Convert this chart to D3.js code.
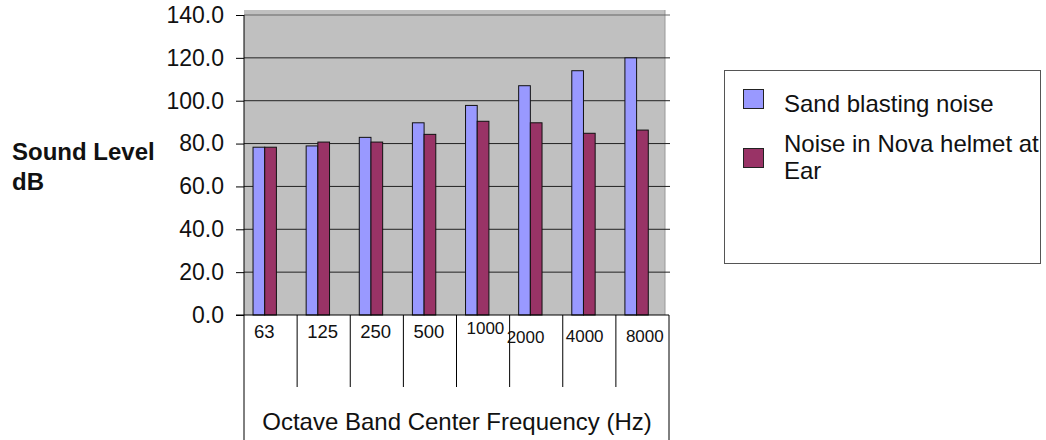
<!DOCTYPE html>
<html>
<head>
<meta charset="utf-8">
<script src="https://cdn.jsdelivr.net/npm/d3@7/dist/d3.min.js"></script>
<style>
  body { margin: 0; background: #fff; }
  svg { display: block; font-family: "Liberation Sans", Arial, sans-serif; }
</style>
</head>
<body>
<div id="chart"></div>
<script>
var bands = ["63", "125", "250", "500", "1000", "2000", "4000", "8000"];
var sandBlasting = [78.3, 78.9, 82.9, 89.7, 97.8, 107.0, 114.0, 120.0];
var novaHelmet = [78.3, 80.7, 80.7, 84.3, 90.4, 89.7, 84.8, 86.3];
var yTicks = [0, 20, 40, 60, 80, 100, 120, 140];
var seriesNames = ["Sand blasting noise", "Noise in Nova helmet at Ear"];

var width = 1046, height = 440;

var svg = d3.select("#chart").append("svg")
    .attr("width", width)
    .attr("height", height);

var x = d3.scaleBand().domain(bands).range([244, 669]).padding(0);
var y = d3.scaleLinear().domain([0, 140]).range([315, 15]);

var step = x.bandwidth();
var barW = step * 0.22;
var barOff = step * 0.17;

// plot background
svg.append("rect")
    .attr("x", 244)
    .attr("y", 10)
    .attr("width", 665 - 244)
    .attr("height", 315 - 10)
    .attr("fill", "#c0c0c0");

svg.append("line")
    .attr("x1", 665).attr("x2", 665)
    .attr("y1", 10).attr("y2", 315)
    .attr("stroke", "#999");

// gridlines
svg.append("g")
    .selectAll("line")
    .data(yTicks.filter(function (d) { return d > 0; }))
    .enter().append("line")
    .attr("x1", 244)
    .attr("x2", 670)
    .attr("y1", function (d) { return y(d); })
    .attr("y2", function (d) { return y(d); })
    .attr("stroke", function (d) { return d === 140 ? "#666" : "#222"; })
    .attr("stroke-width", 1);

// bars
var groups = svg.append("g")
    .selectAll("g")
    .data(bands)
    .enter().append("g")
    .attr("transform", function (d) { return "translate(" + x(d) + ",0)"; });

groups.append("rect")
    .attr("x", barOff)
    .attr("y", function (d, i) { return y(sandBlasting[i]); })
    .attr("width", barW)
    .attr("height", function (d, i) { return y(0) - y(sandBlasting[i]); })
    .attr("fill", "#9999ff")
    .attr("stroke", "#111")
    .attr("stroke-width", 1);

groups.append("rect")
    .attr("x", barOff + barW)
    .attr("y", function (d, i) { return y(novaHelmet[i]); })
    .attr("width", barW)
    .attr("height", function (d, i) { return y(0) - y(novaHelmet[i]); })
    .attr("fill", "#993366")
    .attr("stroke", "#111")
    .attr("stroke-width", 1);

// y axis
var yAxis = svg.append("g")
    .attr("transform", "translate(244,0)")
    .call(d3.axisLeft(y).tickValues(yTicks).tickSize(8).tickPadding(12)
        .tickFormat(d3.format(".1f")));
yAxis.select(".domain").remove();
yAxis.selectAll(".tick line").attr("stroke", "#000");
yAxis.selectAll(".tick text")
    .attr("font-size", "23px")
    .attr("font-family", "'Liberation Sans', Arial, sans-serif")
    .attr("fill", "#111");

// axis frame
svg.append("line")
    .attr("x1", 244).attr("x2", 244)
    .attr("y1", 15).attr("y2", 440)
    .attr("stroke", "#000");
svg.append("line")
    .attr("x1", 669).attr("x2", 669)
    .attr("y1", 315).attr("y2", 440)
    .attr("stroke", "#000");
svg.append("line")
    .attr("x1", 236).attr("x2", 669)
    .attr("y1", 315).attr("y2", 315)
    .attr("stroke", "#000");

// category separators
svg.append("g")
    .selectAll("line")
    .data(bands.slice(1))
    .enter().append("line")
    .attr("x1", function (d) { return x(d); })
    .attr("x2", function (d) { return x(d); })
    .attr("y1", 315)
    .attr("y2", 387)
    .attr("stroke", "#000");

// category labels (Excel left them a bit scattered)
var labelShift = {"1000": [10, 334], "2000": [-3, 343], "4000": [3, 342], "8000": [10, 342]};
svg.append("g")
    .selectAll("text")
    .data(bands)
    .enter().append("text")
    .attr("x", function (d) { return x(d) + (labelShift[d] ? labelShift[d][0] : 10); })
    .attr("y", function (d) { return labelShift[d] ? labelShift[d][1] : 338; })
    .attr("font-size", function (d) { return d.length > 3 ? "17px" : "18.5px"; })
    .attr("fill", "#111")
    .text(function (d) { return d; });

svg.append("text")
    .attr("x", 457)
    .attr("y", 430)
    .attr("text-anchor", "middle")
    .attr("font-size", "24px")
    .attr("fill", "#111")
    .text("Octave Band Center Frequency (Hz)");

// y title
var yTitle = svg.append("text")
    .attr("x", 12)
    .attr("y", 160)
    .attr("font-size", "24px")
    .attr("font-weight", "bold")
    .attr("fill", "#111");
yTitle.append("tspan").attr("x", 12).text("Sound Level");
yTitle.append("tspan").attr("x", 12).attr("dy", 30).text("dB");

// legend
var legend = svg.append("g");
legend.append("rect")
    .attr("x", 724.5)
    .attr("y", 70.5)
    .attr("width", 316)
    .attr("height", 193)
    .attr("fill", "#fff")
    .attr("stroke", "#555");

var colors = ["#9999ff", "#993366"];
var swatchY = [89, 148];
legend.selectAll("rect.sw")
    .data(seriesNames)
    .enter().append("rect")
    .attr("class", "sw")
    .attr("x", 743.5)
    .attr("y", function (d, i) { return swatchY[i] + 0.5; })
    .attr("width", 20)
    .attr("height", 19)
    .attr("fill", function (d, i) { return colors[i]; })
    .attr("stroke", "#222");

legend.append("text")
    .attr("x", 784)
    .attr("y", 112)
    .attr("font-size", "24px")
    .attr("fill", "#111")
    .text(seriesNames[0]);

var t2 = legend.append("text")
    .attr("x", 784)
    .attr("y", 152)
    .attr("font-size", "24px")
    .attr("fill", "#111");
t2.append("tspan").attr("x", 784).text("Noise in Nova helmet at");
t2.append("tspan").attr("x", 784).attr("dy", 27).text("Ear");
</script>
</body>
</html>
